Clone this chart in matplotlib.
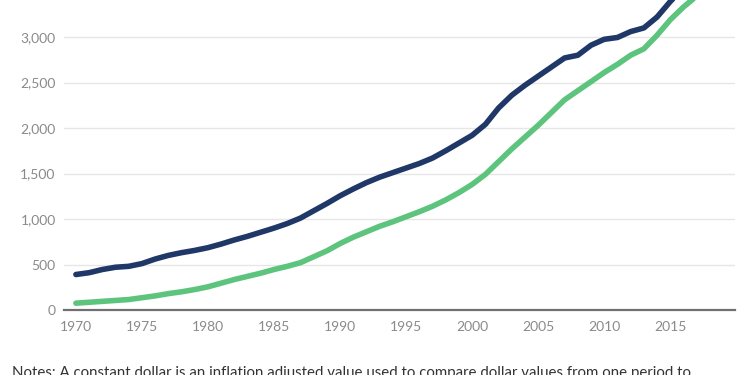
import matplotlib
matplotlib.use("Agg")
import matplotlib.pyplot as plt

plt.rcParams['font.family'] = ['Lato', 'DejaVu Sans']

years = list(range(1970, 2019))
navy_values = [390, 410, 445, 470, 480, 510, 560, 600, 630, 655,
               685, 725, 770, 810, 855, 900, 950, 1010, 1090, 1170,
               1255, 1330, 1400, 1460, 1510, 1560, 1610, 1670, 1750, 1835,
               1920, 2040, 2220, 2360, 2470, 2570, 2670, 2770, 2800, 2910,
               2975, 2995, 3060, 3100, 3220, 3390, 3540, 3680, 3820]
green_values = [75, 85, 95, 105, 115, 135, 155, 180, 200, 225,
                255, 295, 335, 370, 405, 445, 480, 520, 585, 650,
                730, 800, 860, 920, 970, 1025, 1080, 1140, 1210, 1290,
                1380, 1490, 1630, 1770, 1900, 2030, 2170, 2310, 2410, 2510,
                2610, 2700, 2800, 2870, 3020, 3190, 3330, 3450, 3580]
x_ticks = [1970, 1975, 1980, 1985, 1990, 1995, 2000, 2005, 2010, 2015]
y_ticks = [0, 500, 1000, 1500, 2000, 2500, 3000]
note = "Notes: A constant dollar is an inflation adjusted value used to compare dollar values from one period to"

fig = plt.figure(figsize=(7.5, 3.75), dpi=100)
ax = fig.add_axes([64/750, 1 - 310/375, (735-64)/750, 310/375])

ax.plot(years, navy_values, color='#1f3868', lw=4.0, solid_capstyle='round', zorder=3)
ax.plot(years, green_values, color='#5dc47e', lw=4.0, solid_capstyle='round', zorder=3)

ax.set_xlim(1969.1, 2019.9)
ax.set_ylim(0, 3407)
ax.set_xticks(x_ticks)
ax.set_yticks(y_ticks)
ax.set_yticklabels([f"{v:,}" for v in y_ticks])
ax.tick_params(axis='both', length=0, labelsize=10, labelcolor='#8a8a8a')
ax.tick_params(axis='y', pad=6)
ax.tick_params(axis='x', pad=8)
ax.grid(axis='y', color='#e6e6e6', lw=1)
ax.set_axisbelow(True)
for s in ['top', 'right', 'left']:
    ax.spines[s].set_visible(False)
ax.spines['bottom'].set_color('#707070')
ax.spines['bottom'].set_linewidth(1.6)
ax.spines['bottom'].set_zorder(4)

fig.text(12/750, 1 - 366/375, note, ha='left', va='top', fontsize=10.8, color='#333333')

fig.savefig('out.png', dpi=100)
